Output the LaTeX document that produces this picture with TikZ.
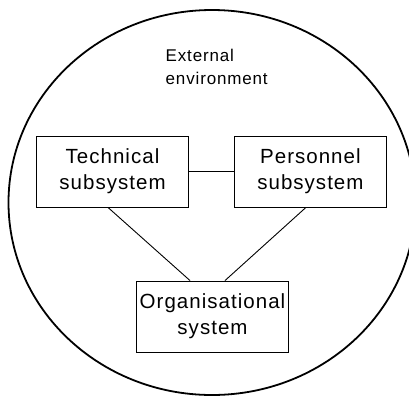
\documentclass[tikz,border=0pt]{standalone}
\usepackage{fontspec}
\setmainfont{Liberation Sans}[LetterSpace=5]
\usetikzlibrary{positioning}

\begin{document}
\begin{tikzpicture}[x=1pt,y=-1pt,
  sysbox/.style={draw,line width=0.9pt,minimum width=152pt,minimum height=71pt,inner sep=0pt,
    align=center,font=\fontsize{20.5}{26}\selectfont}]
\useasboundingbox (0,0) rectangle (409,397);
\draw[line width=1.8pt] (212,202.5) ellipse (203.5 and 192.5);
\node[sysbox] (tech) at (112.5,171.5) {Technical\\subsystem};
\node[sysbox,right=45pt of tech] (pers) {Personnel\\subsystem};
\node[sysbox] (org) at (212.5,316.5) {Organisational\\system};
\node[anchor=north west,inner sep=0pt,align=left,font=\fontsize{17}{22.7}\selectfont] (env) at (165.5,49) {External\\environment};
\draw[line width=0.9pt] (tech) -- (pers);
\draw[line width=0.9pt] ([xshift=-4.5pt]tech.south) -- ([xshift=-22.5pt]org.north);
\draw[line width=0.9pt] ([xshift=-4.5pt]pers.south) -- ([xshift=12.5pt]org.north);
\end{tikzpicture}
\end{document}
